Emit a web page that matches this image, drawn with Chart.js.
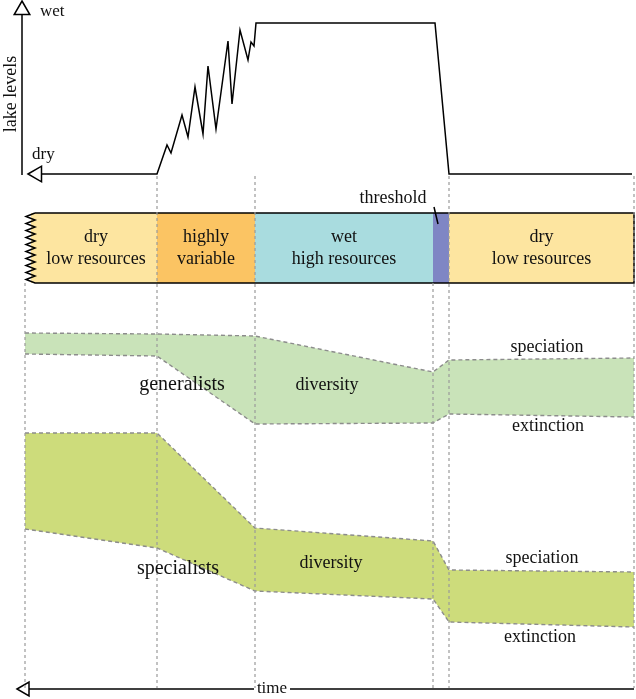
<!DOCTYPE html>
<html>
<head>
<meta charset="utf-8">
<script src="https://cdn.jsdelivr.net/npm/chart.js@4/dist/chart.umd.min.js"></script>
<style>
  html, body { margin: 0; padding: 0; background: #fff; }
  canvas { display: block; }
</style>
</head>
<body>
<canvas id="grafico" width="636" height="699"></canvas>
<script>
// lake level through time (x = time, y = level, drawn on a reversed y scale)
const lakeTime  = [42, 157, 167, 171, 182, 188, 195, 203, 208, 216, 228, 232, 240, 248, 251, 254, 256, 435, 449, 632]
const lakeLevel = [174, 174, 145, 153, 115, 137, 87, 134, 66, 129, 41, 104, 30, 60, 42, 46, 23, 23, 174, 174]

// environment phases
const phaseLabels = [['dry', 'low resources'], ['highly', 'variable'], ['wet', 'high resources'], [], ['dry', 'low resources']]
const phaseStart  = [31, 157, 255, 433, 449]
const phaseEnd    = [157, 255, 433, 449, 634]
const barTop = 213
const barBottom = 283
const zigTime  = [35, 26, 35, 26, 35, 26, 35, 26, 35, 26, 35, 26, 35, 26, 35, 26, 35, 26, 35, 26, 35]
const zigLevel = [283, 279.5, 276, 272.5, 269, 265.5, 262, 258.5, 255, 251.5, 248, 244.5, 241, 237.5, 234, 230.5, 227, 223.5, 220, 216.5, 213]

// diversity bands
const bandTime         = [25, 157, 255, 433, 449, 634]
const generalistTop    = [333, 334, 336, 372, 360, 358]
const generalistBottom = [354, 356, 424, 423, 414, 417]
const specialistTop    = [433, 433, 528, 541, 570, 572]
const specialistBottom = [529, 548, 591, 599, 622, 627]

// phase boundaries (dashed)
const boundaryTime = [25, 157, 255, 433, 449, 634]
const boundaryFrom = [283, 176, 176, 283, 176, 176]
const boundaryTo   = 688

const phaseColors = ['#fde5a0', '#fbc463', '#a9dcdf', '#7f86c4', '#fde5a0']

const notes = [
  { t: 'wet', x: 40, y: 12, align: 'left', size: 17 },
  { t: 'dry', x: 32, y: 155, align: 'left', size: 17 },
  { t: 'lake levels', x: 11, y: 94, rot: -Math.PI / 2 },
  { t: 'threshold', x: 393, y: 198 },
  { t: 'generalists', x: 182, y: 385, size: 20 },
  { t: 'diversity', x: 327, y: 385 },
  { t: 'speciation', x: 547, y: 347 },
  { t: 'extinction', x: 548, y: 426 },
  { t: 'specialists', x: 178, y: 569, size: 20 },
  { t: 'diversity', x: 331, y: 563 },
  { t: 'speciation', x: 542, y: 558 },
  { t: 'extinction', x: 540, y: 637 },
  { t: 'time', x: 272, y: 689, size: 17 }
]

function pts(xs, ys) {
  return xs.map((x, i) => ({ x: x, y: ys[i] }))
}

function line(xs, ys, extra) {
  return Object.assign({
    data: pts(xs, ys),
    borderColor: '#000',
    borderWidth: 1.5,
    pointRadius: 0,
    fill: false,
    tension: 0,
    clip: false
  }, extra)
}

const datasets = []

// boundaries on top of everything
boundaryTime.forEach((x, i) => {
  datasets.push(line([x, x], [boundaryFrom[i], boundaryTo], { borderColor: '#9a9a9a', borderWidth: 1.2, borderDash: [3, 3] }))
})

// arrows
datasets.push(line([22], [10], { showLine: false, pointStyle: 'triangle', pointRadius: 9, pointRotation: 0, pointBackgroundColor: '#fff', pointBorderColor: '#000', pointBorderWidth: 1.5 }))
datasets.push(line([37], [174], { showLine: false, pointStyle: 'triangle', pointRadius: 9, pointRotation: -90, pointBackgroundColor: '#fff', pointBorderColor: '#000', pointBorderWidth: 1.5 }))
datasets.push(line([25], [689], { showLine: false, pointStyle: 'triangle', pointRadius: 8, pointRotation: -90, pointBackgroundColor: '#fff', pointBorderColor: '#000', pointBorderWidth: 1.5 }))

// axes lines
datasets.push(line([22, 22], [14.5, 175]))
datasets.push(line([29, 254], [689, 689]))
datasets.push(line([290, 634], [689, 689]))

// lake curve
datasets.push(line(lakeTime, lakeLevel))

// threshold tick
datasets.push(line([434, 438], [207, 224]))

// phase bar outline
datasets.push(line([35, 634, 634, 35].concat(zigTime.slice(1)), [barTop, barTop, barBottom, barBottom].concat(zigLevel.slice(1)), { borderWidth: 1.5 }))

// phase fills
phaseStart.forEach((x0, i) => {
  datasets.push(line([x0, phaseEnd[i]], [barTop, barTop], { borderWidth: 0, fill: { value: barBottom }, backgroundColor: phaseColors[i] }))
})

// bands
const edge = { borderColor: '#8c8c8c', borderWidth: 1.4, borderDash: [4, 3] }
datasets.push(line(bandTime, generalistTop, Object.assign({ fill: '+1', backgroundColor: '#c9e3b9' }, edge)))
datasets.push(line(bandTime, generalistBottom, edge))
datasets.push(line(bandTime, specialistTop, Object.assign({ fill: '+1', backgroundColor: '#cddc7b' }, edge)))
datasets.push(line(bandTime, specialistBottom, edge))

const textPlugin = {
  id: 'texts',
  afterDraw(chart) {
    const ctx = chart.ctx
    const sx = chart.scales.x
    const sy = chart.scales.y
    const all = notes.slice()
    phaseLabels.forEach((lab, i) => {
      const cx = i === 0 ? 96 : (phaseStart[i] + phaseEnd[i]) / 2
      if (lab.length) {
        all.push({ t: lab[0], x: cx, y: 237 })
        all.push({ t: lab[1], x: cx, y: 259 })
      }
    })
    all.forEach(n => {
      ctx.save()
      ctx.font = (n.size || 18) + 'px "Liberation Serif", "DejaVu Serif", serif'
      ctx.fillStyle = '#111'
      ctx.textAlign = n.align || 'center'
      ctx.textBaseline = 'middle'
      ctx.translate(sx.getPixelForValue(n.x), sy.getPixelForValue(n.y))
      if (n.rot) ctx.rotate(n.rot)
      ctx.fillText(n.t, 0, 0)
      ctx.restore()
    })
  }
}

const ctx = document.getElementById('grafico').getContext('2d')

new Chart(ctx, {
  type: 'line',
  data: { datasets: datasets },
  options: {
    responsive: false,
    animation: false,
    layout: { padding: 0, autoPadding: false },
    scales: {
      x: { type: 'linear', min: 0, max: 636, display: false },
      y: { type: 'linear', min: 0, max: 699, reverse: true, display: false }
    },
    plugins: {
      legend: { display: false },
      tooltip: { enabled: false },
      filler: { drawTime: 'beforeDatasetsDraw' }
    }
  },
  plugins: [textPlugin]
})
</script>
</body>
</html>
